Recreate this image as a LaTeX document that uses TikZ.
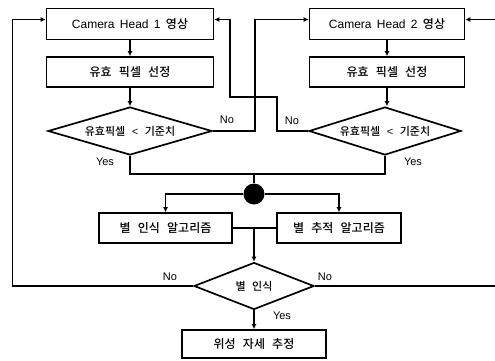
\documentclass[tikz,border=0pt]{standalone}
\usepackage{fontspec}
\setmainfont{Liberation Sans}
\newfontfamily\kr{Noto Sans CJK KR Medium}
\usetikzlibrary{shapes.geometric,arrows.meta}
\newcommand\gap{\hspace{0.6em}}
\tikzset{
  box/.style={draw,line width=1.7pt,inner sep=0pt,font=\fontsize{12}{14}\selectfont\kr},
  cond/.style={draw,diamond,aspect=3,line width=1.7pt,inner sep=0pt,font=\fontsize{11}{13}\selectfont\kr},
  lbl/.style={font=\fontsize{11}{13}\selectfont},
  line/.style={line width=1.7pt},
  arr/.style={line width=1.7pt,-{Latex[length=5pt,width=5pt]}}
}
\begin{document}
\begin{tikzpicture}[x=1pt,y=-1pt]
\useasboundingbox (0,0) rectangle (495,360);
% first camera column
\node[box,minimum width=167pt,minimum height=31pt] (cam1) at (130,24) {\rmfamily Camera\,\ Head\,\ 1\,\ {\kr 영상}};
\node[box,minimum width=167pt,minimum height=30pt] (sel1) at (130,72) {유효\gap 픽셀\gap 선정};
\node[cond,minimum width=164pt,minimum height=48pt] (dia1) at (130,131) {유효픽셀\gap{\rmfamily <}\gap 기준치};
% second camera column
\node[box,minimum width=155pt,minimum height=31pt] (cam2) at (387,24) {\rmfamily Camera\,\ Head\,\ 2\,\ {\kr 영상}};
\node[box,minimum width=155pt,minimum height=30pt] (sel2) at (387,72) {유효\gap 픽셀\gap 선정};
\node[cond,minimum width=152pt,minimum height=48pt] (dia2) at (385,131) {유효픽셀\gap{\rmfamily <}\gap 기준치};
% merge
\coordinate (top) at (254,174);
\node[circle,fill,minimum size=21pt,inner sep=0pt] (dot) at (254,194) {};
\node[box,minimum width=133pt,minimum height=30pt] (algo1) at (165.5,228) {별\gap 인식\gap 알고리즘};
\node[box,minimum width=124pt,minimum height=30pt] (algo2) at (339,228) {별\gap 추적\gap 알고리즘};
\coordinate (mid) at (254,228);
\node[cond,minimum width=120pt,minimum height=47pt] (rec) at (254,286) {별\gap 인식};
\node[box,minimum width=144pt,minimum height=28pt] (est) at (254,344) {위성\gap 자세\gap 추정};
% loops
\coordinate (lft) at (12.5,19.5);
\coordinate (rgt) at (499,19.5);
\coordinate (n1) at (255,19.5);
\coordinate (n2) at (277,97);
\coordinate (n2b) at (230,97);
\coordinate (n2c) at (230,19.5);

\draw[arr] (cam1) -- (sel1);
\draw[arr] (sel1) -- (dia1);
\draw[arr] (cam2) -- (sel2);
\draw[arr] (sel2.south) -- (sel2.south |- dia2.north);
\draw[line] (dia1.south) |- (top);
\draw[line] (dia2.south) |- (top);
\draw[line] (top) -- (dot);
\draw[arr] (dot) -| (algo1.north);
\draw[arr] (dot) -| (algo2.north);
\draw[line] (algo1.east) -- (algo2.west);
\draw[arr] (mid) -- (rec.north);
\draw[arr] (rec.south) -- (est.north);
\draw[arr] (rec.west) -| (lft) -- (lft -| cam1.west);
\draw[arr] (rec.east) -| (rgt) -- (rgt -| cam2.east);
\draw[arr] (dia1.east) -| (n1) -- (n1 -| cam2.west);
\draw[arr] (dia2.west) -| (n2) -- (n2b) -- (n2c) -- (n2c -| cam1.east);
% labels
\node[lbl] (no1) at (227,120) {No};
\node[lbl] (yes1) at (105,162) {Yes};
\node[lbl] (no2) at (292,121) {No};
\node[lbl] (yes2) at (413,162) {Yes};
\node[lbl] (no3) at (170,277) {No};
\node[lbl] (no4) at (325,277) {No};
\node[lbl] (yes3) at (282,316) {Yes};
\end{tikzpicture}
\end{document}
